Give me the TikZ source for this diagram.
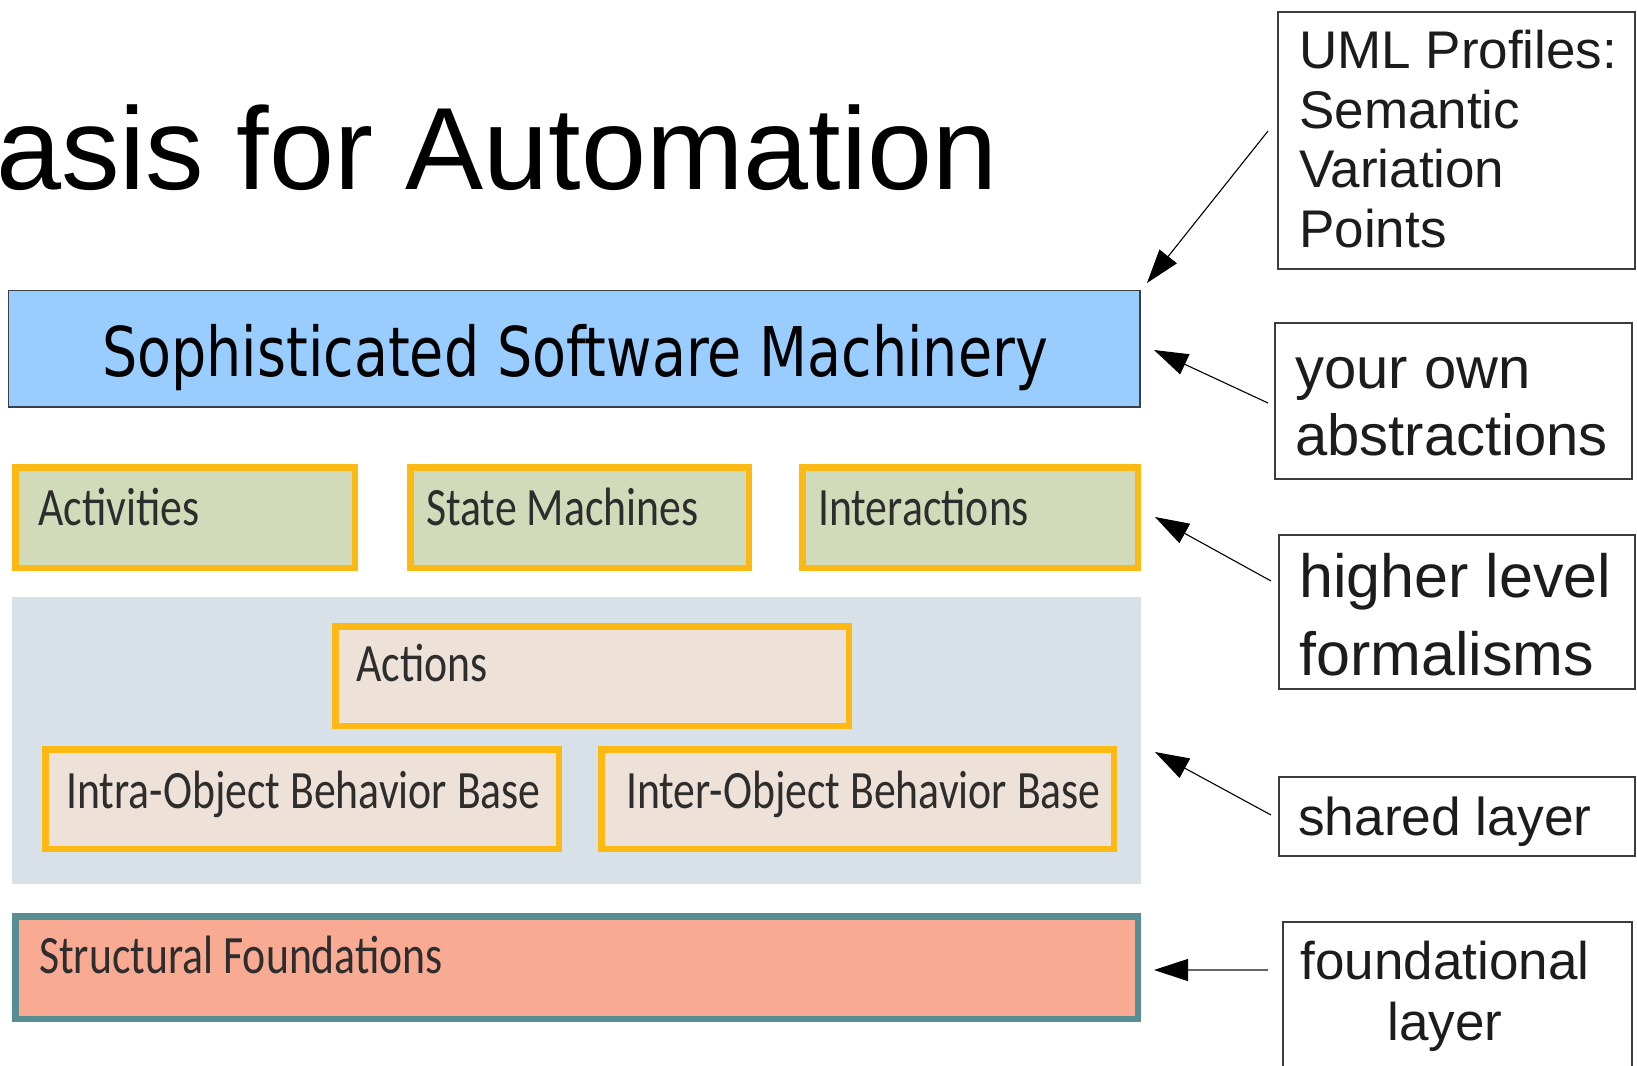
\documentclass[tikz,border=0pt]{standalone}
\usepackage{fontspec}
\usetikzlibrary{arrows.meta}

% Fonts: Arial-like for title and callouts, narrow sans for the layer boxes
\newfontfamily\arialf{Liberation Sans}
\newfontfamily\bannerf[FakeStretch=0.81]{DejaVu Sans}
\newfontfamily\layerf[FakeStretch=0.81]{Carlito}

\definecolor{blueF}{HTML}{99CCFF}
\definecolor{blueB}{HTML}{3A3F48}
\definecolor{greenF}{HTML}{D2DBB9}
\definecolor{orangeB}{HTML}{FDB913}
\definecolor{sharedF}{HTML}{D8E0E8}
\definecolor{beigeF}{HTML}{EDE1D8}
\definecolor{salmonF}{HTML}{F8AA93}
\definecolor{tealB}{HTML}{568E93}
\definecolor{lbltext}{HTML}{2D2D2D}
\definecolor{calltext}{HTML}{1C1C1C}
\definecolor{callB}{HTML}{3C3C3C}

\tikzset{
  blk/.style={rectangle, inner sep=0pt, outer sep=0pt, anchor=north west},
  bluebox/.style={blk, fill=blueF, draw=blueB, line width=1.3pt},
  formbox/.style={blk, fill=greenF, draw=orangeB, line width=6.5pt},
  basebox/.style={blk, fill=beigeF, draw=orangeB, line width=6.5pt},
  sharedbg/.style={blk, fill=sharedF},
  foundbox/.style={blk, fill=salmonF, draw=tealB, line width=6.5pt},
  lbl/.style={inner sep=0pt, anchor=base west, text=lbltext,
    font=\layerf\fontsize{54}{60}\selectfont},
  callbox/.style={blk, draw=callB, line width=1.5pt},
  callt/.style={inner sep=0pt, text=calltext},
  callarrow/.style={draw=black, line width=1.1pt,
    -{Triangle[length=34pt,width=22pt,color=black]}},
}

\begin{document}
\begin{tikzpicture}[x=1pt, y=-1pt]
\useasboundingbox (0,0) rectangle (1637,1065);
\clip (0,0) rectangle (1637,1065);

% title, running off the left edge
\node[inner sep=0pt, anchor=base west, font=\arialf\fontsize{117}{130}\selectfont]
  (title) at (-4,189) {asis for Automation};

% top layer
\node[bluebox, minimum width=1131.5pt, minimum height=116.5pt] (machinery) at (8.6,290.6) {};
\node[inner sep=0pt, anchor=base, font=\bannerf\fontsize{68.6}{76}\selectfont]
  (machlbl) at (575,376) {Sophisticated Software Machinery};

% higher level formalisms
\node[formbox, minimum width=339.5pt, minimum height=100.5pt] (act) at (15.25,467.25) {};
\node[formbox, minimum width=338.5pt, minimum height=100.5pt] (sm) at (410.25,467.25) {};
\node[formbox, minimum width=335.5pt, minimum height=100.5pt] (inter) at (802.25,467.25) {};
\node[lbl] (actlbl) at (38,525) {Activities};
\node[lbl] (smlbl) at (426,525) {State Machines};
\node[lbl] (interlbl) at (818,525) {Interactions};

% shared layer
\node[sharedbg, minimum width=1129pt, minimum height=287pt] (shared) at (12,597) {};
\node[basebox, minimum width=513.5pt, minimum height=99.5pt] (actions) at (335.25,626.25) {};
\node[basebox, minimum width=513.5pt, minimum height=99.5pt] (intra) at (45.25,749.25) {};
\node[basebox, minimum width=512.5pt, minimum height=99.5pt] (interobj) at (601.25,749.25) {};
\node[lbl] (actionslbl) at (356,681) {Actions};
\node[lbl] (intralbl) at (66,808) {Intra-Object Behavior Base};
\node[lbl] (interobjlbl) at (626,808) {Inter-Object Behavior Base};

% foundational layer
\node[foundbox, minimum width=1122.5pt, minimum height=102.5pt] (struct) at (15.25,916.25) {};
\node[lbl] (structlbl) at (39,973) {Structural Foundations};

% callout boxes
\node[callbox, minimum width=357pt, minimum height=257pt] (uml) at (1278,12) {};
\node[callbox, minimum width=357pt, minimum height=156pt] (own) at (1275,323) {};
\node[callbox, minimum width=356pt, minimum height=154pt] (higher) at (1279,535) {};
\node[callbox, minimum width=356pt, minimum height=79pt] (sharedc) at (1279,777) {};
\node[callbox, minimum width=349pt, minimum height=170pt] (found) at (1283,922) {};

\node[callt, anchor=base west, font=\arialf\fontsize{53}{59.5}\selectfont] (umltxt) at (1299,69)
  {\begin{tabular}[t]{@{}l@{}}UML Profiles:\\Semantic\\Variation\\Points\end{tabular}};
\node[callt, anchor=base west, font=\arialf\fontsize{58}{67}\selectfont] (owntxt) at (1295,388)
  {\begin{tabular}[t]{@{}l@{}}your own\\abstractions\end{tabular}};
\node[callt, anchor=base west, font=\arialf\fontsize{61}{78}\selectfont] (highertxt) at (1299,597)
  {\begin{tabular}[t]{@{}l@{}}higher level\\formalisms\end{tabular}};
\node[callt, anchor=base west, font=\arialf\fontsize{53.3}{60}\selectfont] (sharedtxt) at (1298,835)
  {shared layer};
\node[callt, anchor=base, font=\arialf\fontsize{53}{61}\selectfont] (foundtxt) at (1445,979)
  {\begin{tabular}[t]{@{}c@{}}foundational\\layer\end{tabular}};

% arrow ends
\coordinate (umlfrom) at (1268,131);
\coordinate (umlto) at (1147,283);
\coordinate (ownfrom) at (1268,403);
\coordinate (ownto) at (1154,350);
\coordinate (higherfrom) at (1271,581);
\coordinate (higherto) at (1155,517);
\coordinate (sharedfrom) at (1271,815);
\coordinate (sharedto) at (1155,752);
\coordinate (foundfrom) at (1268,970);
\coordinate (foundto) at (1154,970);

\draw[callarrow] (umlfrom) -- (umlto);
\draw[callarrow] (ownfrom) -- (ownto);
\draw[callarrow] (higherfrom) -- (higherto);
\draw[callarrow] (sharedfrom) -- (sharedto);
\draw[callarrow, draw=black!60] (foundfrom) -- (foundto);
\end{tikzpicture}
\end{document}
